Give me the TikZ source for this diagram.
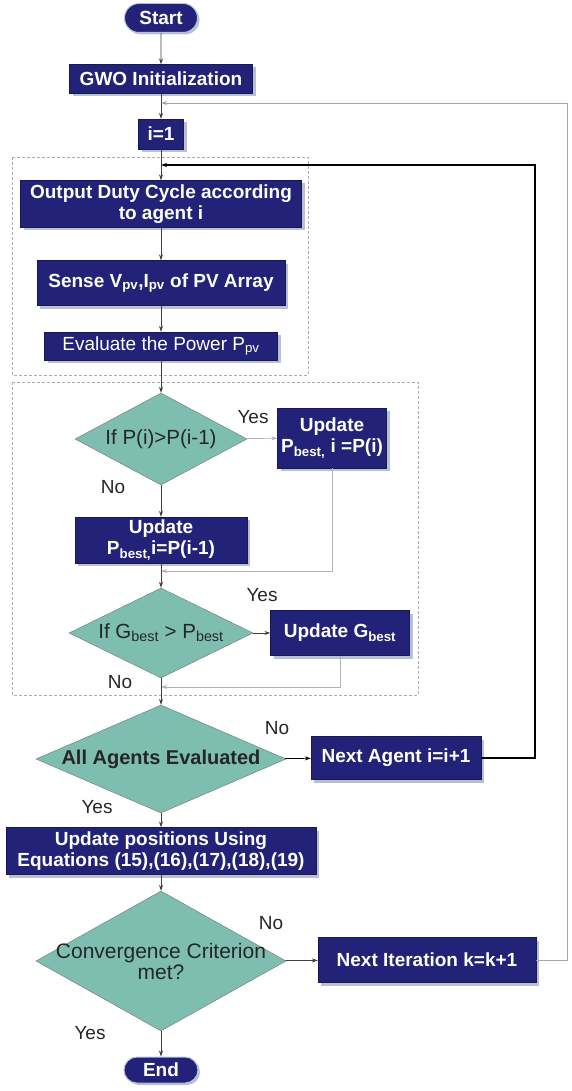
\documentclass[tikz,border=0pt]{standalone}
\usepackage{fontspec}
\setmainfont{Liberation Sans}
\usepackage{xcolor}
\definecolor{boxNavy}{RGB}{34,34,120}
\definecolor{decTeal}{RGB}{125,190,176}
\definecolor{shadeBlue}{RGB}{184,192,214}
\usetikzlibrary{arrows.meta, shapes.geometric, shapes.misc, shadows}
\tikzset{
	procbox/.style={draw=boxNavy!70!black, fill=boxNavy, text=white, font=\bfseries\fontsize{19}{21}\selectfont, align=center, inner sep=1pt, drop shadow={fill=shadeBlue, opacity=1, shadow xshift=3pt, shadow yshift=-3pt}},
	termbox/.style={rounded rectangle, draw=shadeBlue, line width=1pt, fill=boxNavy, text=white, font=\bfseries\fontsize{19}{21}\selectfont, inner sep=1pt, drop shadow={fill=shadeBlue, opacity=1, shadow xshift=2pt, shadow yshift=-2pt}},
	decbox/.style={diamond, draw=black!55, fill=decTeal, text=black!85, font=\fontsize{20.5}{22}\selectfont, align=center, inner sep=0pt},
	flowarr/.style={-{Stealth[length=6pt, width=4pt]}, draw=black!75, line width=0.7pt},
	sidearr/.style={flowarr, draw=gray!60},
	looparr/.style={flowarr, draw=black, line width=1.1pt},
	outerarr/.style={flowarr, draw=gray!70, line width=0.9pt},
	groupbox/.style={draw=gray!65, densely dashed, line width=0.6pt},
	ynlabel/.style={font=\fontsize{19}{21}\selectfont, text=black!85, inner sep=0pt},
}

\begin{document}
\begin{tikzpicture}[x=1pt, y=-1pt]
	\useasboundingbox (0,0) rectangle (571,1091);
	% dashed groups
	\draw[groupbox] (12,157) rectangle (308,375);
	\draw[groupbox] (12,382) rectangle (418,695);
	% main column
	\node[termbox, minimum width=75pt, minimum height=29pt] (start) at (161,18) {Start};
	\node[procbox, minimum width=183pt, minimum height=29pt] (gwo) at (161,79) {GWO Initialization};
	\node[procbox, minimum width=45pt, minimum height=30pt] (ione) at (161,134) {i=1};
	\node[procbox, minimum width=281pt, minimum height=47pt] (duty) at (161,204) {Output Duty Cycle according\\to agent i};
	\node[procbox, minimum width=248pt, minimum height=45pt] (sense) at (161,283) {Sense V\textsubscript{pv},I\textsubscript{pv} of PV Array};
	\node[procbox, font=\fontsize{19}{21}\selectfont, minimum width=233pt, minimum height=28pt] (evalp) at (161,346) {Evaluate the Power P\textsubscript{pv}};
	\node[decbox, aspect=1.87, minimum width=172pt, minimum height=92pt] (dcmp) at (161,439) {If P(i)>P(i-1)};
	\node[procbox, minimum width=109pt, minimum height=60pt] (updi) at (332,438) {Update\\P\textsubscript{best,} i =P(i)};
	\node[procbox, minimum width=172pt, minimum height=46pt] (updprev) at (161,540) {Update\\P\textsubscript{best,}i=P(i-1)};
	\node[decbox, aspect=2.04, minimum width=184pt, minimum height=90pt] (dgbest) at (161,633) {If G\textsubscript{best} > P\textsubscript{best}};
	\node[procbox, minimum width=139pt, minimum height=45pt] (updg) at (340,633) {Update G\textsubscript{best}};
	\node[decbox, font=\bfseries\fontsize{20}{22}\selectfont, aspect=2.31, minimum width=250pt, minimum height=108pt] (dall) at (161,759) {All Agents Evaluated};
	\node[procbox, minimum width=170pt, minimum height=43pt] (nexta) at (396,758) {Next Agent i=i+1};
	\node[procbox, minimum width=310pt, minimum height=47pt] (upos) at (161,851) {Update positions Using\\Equations (15),(16),(17),(18),(19)};
	\node[decbox, font=\fontsize{21}{21}\selectfont, inner xsep=-18pt, aspect=1.79, minimum width=250pt, minimum height=140pt] (dconv) at (161,961) {Convergence Criterion\\met?};
	\node[procbox, minimum width=218pt, minimum height=45pt] (nexti) at (427,960) {Next Iteration k=k+1};
	\node[termbox, minimum width=76pt, minimum height=26pt] (stop) at (161,1070) {End};
	% junctions
	\coordinate (jout) at (161,103);
	\coordinate (jin) at (161,165);
	\coordinate (jn1) at (161,571);
	\coordinate (jn2) at (161,687);
	\coordinate (cin) at (535,165);
	\coordinate (cout) at (567,103);
	% labels
	\node[ynlabel] (yes1) at (253,417) {Yes};
	\node[ynlabel] (no1) at (113,487) {No};
	\node[ynlabel] (yes2) at (262,595) {Yes};
	\node[ynlabel] (no2) at (120,682) {No};
	\node[ynlabel] (no3) at (277,728) {No};
	\node[ynlabel] (yes3) at (97,807) {Yes};
	\node[ynlabel] (no4) at (271,923) {No};
	\node[ynlabel] (yes4) at (90,1033) {Yes};
	% flow
	\draw[flowarr] (start) -- (gwo);
	\draw[flowarr] (gwo) -- (ione);
	\draw[flowarr] (ione) -- (duty);
	\draw[flowarr] (duty) -- (sense);
	\draw[flowarr] (sense) -- (evalp);
	\draw[flowarr] (evalp) -- (dcmp);
	\draw[sidearr] (dcmp) -- (updi);
	\draw[flowarr] (dcmp) -- (updprev);
	\draw[sidearr] (updi.south) |- (jn1);
	\draw[flowarr] (updprev) -- (dgbest);
	\draw[flowarr] (dgbest) -- (updg);
	\draw[sidearr] (updg.south) |- (jn2);
	\draw[flowarr] (dgbest) -- (dall);
	\draw[flowarr, draw=black] (dall) -- (nexta);
	\draw[looparr] (nexta.east) -| (cin) -- (jin);
	\draw[flowarr] (dall) -- (upos);
	\draw[flowarr] (upos) -- (dconv);
	\draw[flowarr] (dconv) -- (nexti);
	\draw[outerarr] (nexti.east) -| (cout) -- (jout);
	\draw[flowarr] (dconv) -- (stop);
\end{tikzpicture}
\end{document}
